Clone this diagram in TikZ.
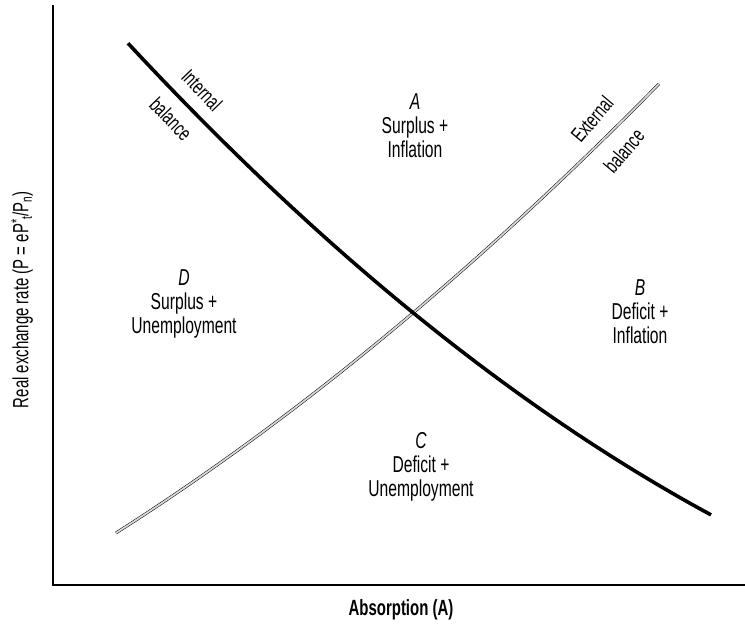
\documentclass[tikz,border=0pt]{standalone}
\usepackage{fontspec}
\setmainfont{Liberation Sans}[FakeStretch=0.68]
\usetikzlibrary{positioning}
\newcommand\lowsub[1]{\raisebox{-0.3ex}{\fontsize{15}{15}\selectfont #1}}
\newcommand\upsup[1]{\raisebox{0.55ex}{\fontsize{16}{16}\selectfont #1}}
\begin{document}
\begin{tikzpicture}[x=1pt,y=-1pt,
    region/.style={align=center,font=\fontsize{23}{24}\selectfont},
    curvelabel/.style={font=\fontsize{21}{22}\selectfont},
    internal/.style={line width=3.6pt,black},
    external/.style={double=gray!30,double distance=1.8pt,line width=0.5pt}]
    \useasboundingbox (0,0) rectangle (745,624);
    % --- axes ---
    \coordinate (ytop) at (53,5);
    \coordinate (origin) at (53,585);
    \coordinate (xend) at (745,585);
    \draw[line width=1.5pt] (ytop) -- (origin) -- (xend);
    \node[font=\fontsize{22}{24}\selectfont\bfseries] (xlab) at (401,610) {Absorption (A)};
    \node[font=\fontsize{22}{24}\selectfont,rotate=90] (ylab) at (22,300)
      {Real exchange rate (P = eP\upsup{*}\lowsub{t}/P\lowsub{n})};
    % --- balance schedules ---
    \draw[external] plot[domain=116:659,samples=80]
      (\x,{477+(\x-200)*(-0.5551-0.000353*(\x+200))});
    \draw[internal] plot[domain=128:711,samples=80]
      (\x,{158+(\x-240)*(1.193-0.000451*(\x+240))});
    \node[curvelabel,rotate=-46] (intA) at (202,90) {Internal};
    \node[curvelabel,rotate=-46] (intB) at (171,119) {balance};
    \node[curvelabel,rotate=50] (extA) at (592,119) {External};
    \node[curvelabel,rotate=50] (extB) at (624,151) {balance};
    % --- the four regions ---
    \node[region] (regA) at (415,126) {\textit{A}\\Surplus +\\Inflation};
    \node[region] (regB) at (640,312) {\textit{B}\\Deficit +\\Inflation};
    \node[region] (regC) at (421,467) {\textit{C}\\Deficit +\\Unemployment};
    \node[region] (regD) at (184,304) {\textit{D}\\Surplus +\\Unemployment};
\end{tikzpicture}
\end{document}
